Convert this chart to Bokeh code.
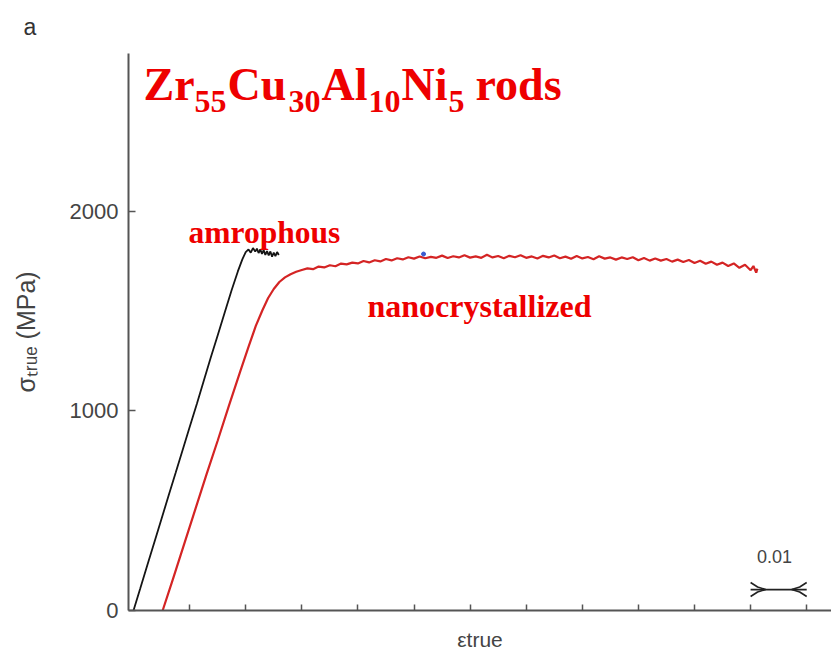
import math

from bokeh.plotting import figure
from bokeh.models import Label, FixedTicker, Range1d, CustomJSTickFormatter, Title
from bokeh.embed import file_html
from bokeh.resources import INLINE

# ---- true stress / true strain data -------------------------------------
amorphous_strain = [0.0, 0.0012, 0.0025, 0.0038, 0.0050, 0.0063, 0.0075, 0.0088,
                    0.0100, 0.0113, 0.0125, 0.0138, 0.0150, 0.0163, 0.0175, 0.0186,
                    0.0194, 0.0200, 0.0205, 0.0209, 0.0213, 0.0217, 0.0220, 0.0223,
                    0.0226, 0.0229, 0.0232, 0.0235, 0.0238, 0.0241, 0.0244, 0.0247,
                    0.0250, 0.0253, 0.0256, 0.0259]
amorphous_stress = [0, 110, 230, 349, 459, 580, 689, 808,
                    918, 1035, 1148, 1269, 1377, 1496, 1605, 1698,
                    1758, 1795, 1808, 1792, 1815, 1797, 1812, 1790,
                    1808, 1786, 1805, 1781, 1800, 1778, 1798, 1772,
                    1792, 1775, 1795, 1780]

nano_strain = [0.0052, 0.0070, 0.0090, 0.0110, 0.0130, 0.0150, 0.0170, 0.0190,
               0.0205, 0.0218, 0.0230, 0.0240, 0.0250, 0.0260, 0.0270, 0.0280,
               0.0290, 0.0300, 0.031, 0.032, 0.033, 0.034, 0.035, 0.036,
               0.037, 0.038, 0.039, 0.040, 0.041, 0.042, 0.043, 0.044,
               0.045, 0.046, 0.047, 0.048, 0.049, 0.050, 0.051, 0.052,
               0.053, 0.054, 0.055, 0.056, 0.057, 0.058, 0.059, 0.060,
               0.061, 0.062, 0.063, 0.064, 0.065, 0.066, 0.067, 0.068,
               0.069, 0.070, 0.071, 0.072, 0.073, 0.074, 0.075, 0.076,
               0.077, 0.078, 0.079, 0.080, 0.081, 0.082, 0.083, 0.084,
               0.085, 0.086, 0.087, 0.088, 0.089, 0.090, 0.091, 0.092,
               0.093, 0.094, 0.095, 0.096, 0.097, 0.098, 0.099, 0.100,
               0.101, 0.102, 0.103, 0.104, 0.105, 0.106, 0.107, 0.108,
               0.109, 0.110, 0.1105, 0.111, 0.1112]
nano_stress = [0, 155, 330, 505, 680, 850, 1025, 1195,
               1320, 1425, 1505, 1565, 1610, 1645, 1668, 1684,
               1696, 1705, 1713, 1709, 1722, 1718, 1729, 1724,
               1737, 1733, 1742, 1738, 1750, 1743, 1754, 1748,
               1760, 1753, 1764, 1758, 1769, 1762, 1773, 1764,
               1771, 1766, 1777, 1765, 1774, 1768, 1779, 1767,
               1773, 1766, 1781, 1768, 1775, 1764, 1776, 1769,
               1779, 1766, 1773, 1763, 1776, 1768, 1778, 1764,
               1772, 1761, 1775, 1763, 1770, 1759, 1774, 1762,
               1768, 1757, 1768, 1760, 1769, 1754, 1765, 1752,
               1763, 1752, 1760, 1747, 1757, 1745, 1755, 1740,
               1751, 1736, 1747, 1731, 1742, 1725, 1738, 1716,
               1731, 1704, 1725, 1692, 1712]

marker_strain = [0.0517]
marker_stress = [1785]

x_ticks = [0.01, 0.02, 0.03, 0.04, 0.05, 0.06, 0.07, 0.08, 0.09, 0.10, 0.11, 0.12]
y_ticks = [0, 1000, 2000]

scale_bar_start = 0.11
scale_bar_length = 0.01
scale_bar_level = 105
scale_bar_text = "0.01"

# ---- canvas geometry (pixels) -------------------------------------------
W, H = 831, 654
LEFT, RIGHT, TOP, BOTTOM = 128, 831, 53, 610
ZERO_STRAIN_PX = 133
PX_PER_STRAIN = 5610.0
PX_PER_MPA = 0.1997


def sx(px):
    return (px - ZERO_STRAIN_PX) / PX_PER_STRAIN


def sy(py):
    return (BOTTOM - py) / PX_PER_MPA


RED_TEXT = "#ee0000"
AXIS_GRAY = "#555555"
TEXT_GRAY = "#444444"

p = figure(width=W, height=H,
           x_range=Range1d(sx(LEFT), sx(RIGHT)),
           y_range=Range1d(0, sy(TOP)),
           output_backend="svg", toolbar_location=None,
           min_border_left=LEFT, min_border_right=W - RIGHT,
           min_border_top=TOP, min_border_bottom=H - BOTTOM)
p.outline_line_color = None
p.grid.visible = False
p.background_fill_color = "white"
p.border_fill_color = "white"

# x axis: inward ticks, no numbers
xa = p.xaxis[0]
xa.ticker = FixedTicker(ticks=x_ticks)
xa.formatter = CustomJSTickFormatter(code="return ''")
xa.major_label_standoff = 0
xa.major_tick_in = 6
xa.major_tick_out = 0
xa.minor_tick_line_color = None
xa.axis_line_color = AXIS_GRAY
xa.axis_line_width = 2
xa.major_tick_line_color = AXIS_GRAY
xa.major_tick_line_width = 1.5
xa.axis_label = "\u03b5true"
xa.axis_label_text_font = "Liberation Sans"
xa.axis_label_text_font_size = "21px"
xa.axis_label_text_font_style = "normal"
xa.axis_label_text_color = TEXT_GRAY
xa.axis_label_standoff = 17

# y axis
ya = p.yaxis[0]
ya.ticker = FixedTicker(ticks=y_ticks)
ya.major_tick_in = 7
ya.major_tick_out = 0
ya.minor_tick_line_color = None
ya.axis_line_color = AXIS_GRAY
ya.axis_line_width = 2
ya.major_tick_line_color = AXIS_GRAY
ya.major_tick_line_width = 1.5
ya.major_label_standoff = 10
ya.major_label_text_font = "Liberation Sans"
ya.major_label_text_font_size = "22px"
ya.major_label_text_color = TEXT_GRAY
ya.axis_label = "\u03c3\u209c\u1d63\u1d64\u2091 (MPa)"
ya.axis_label_text_font = "Liberation Sans"
ya.axis_label_text_font_size = "25px"
ya.axis_label_text_font_style = "normal"
ya.axis_label_text_color = TEXT_GRAY
ya.axis_label_standoff = 27

# panel letter
p.add_layout(Title(text="a", align="left", offset=-105, standoff=24,
                   vertical_align="top",
                   text_font="Liberation Sans", text_font_size="23px",
                   text_font_style="normal", text_color="#333333"), "above")

# curves
p.line(amorphous_strain, amorphous_stress, line_color="#151515", line_width=1.8)
p.line(nano_strain, nano_stress, line_color="#d42424", line_width=2.2)
p.scatter(marker_strain, marker_stress, size=4, color="#3b5bd0")

# scale bar (0.01 strain) with flared tails at both ends
x0 = scale_bar_start
x1 = scale_bar_start + scale_bar_length
dx_in = 15 / PX_PER_STRAIN
dx_mid = 7 / PX_PER_STRAIN
dy_mid = 2.5 / PX_PER_MPA
dy_end = 7 / PX_PER_MPA
yb = scale_bar_level
p.line([x0, x1], [yb, yb], line_color="#222222", line_width=1.8)
for xe, sgn in ((x0, 1), (x1, -1)):
    for vs in (1, -1):
        p.line([xe + sgn * dx_in, xe + sgn * dx_mid, xe],
               [yb, yb + vs * dy_mid, yb + vs * dy_end],
               line_color="#222222", line_width=1.6)

BASELINE_SHIFT = 0.4  # em, lifts the label anchor onto the glyph baseline


def add_text(px, py, text, size, font="Liberation Serif", color=RED_TEXT,
             style="bold", align="left"):
    py_anchor = py - BASELINE_SHIFT * size
    p.add_layout(Label(x=sx(px), y=sy(py_anchor), text=text,
                       text_align=align, text_baseline="alphabetic",
                       text_font=font, text_font_size=f"{size}px",
                       text_font_style=style, text_color=color))


add_text(774, 563, scale_bar_text, 18, font="Liberation Sans",
         color=TEXT_GRAY, style="normal", align="center")

# title with subscripts
for px, py, txt, size in ((143, 102, "Zr", 46), (194, 114, "55", 32),
                          (227, 102, "Cu", 46), (288, 114, "30", 32),
                          (321, 102, "Al", 46), (368, 114, "10", 32),
                          (401, 102, "Ni", 46), (448, 114, "5", 32),
                          (475, 102, "rods", 46)):
    add_text(px, py, txt, size)

# curve annotations
add_text(188, 245, "amrophous", 31.5)
add_text(367, 318, "nanocrystallized", 32)

open("out.html", "w").write(file_html(p, INLINE))
